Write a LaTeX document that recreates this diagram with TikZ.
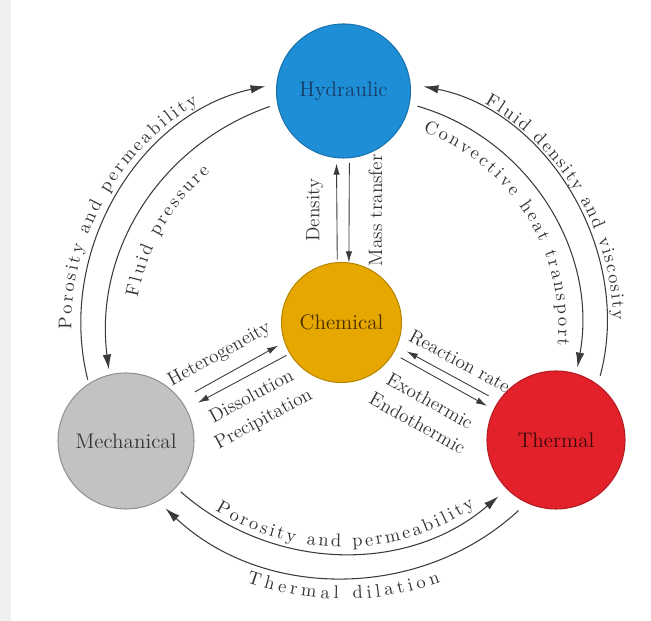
\documentclass[tikz,border=0pt]{standalone}
\usetikzlibrary{arrows.meta,decorations.text}

\definecolor{hydblue}{HTML}{1E8FD7}
\definecolor{chemgold}{HTML}{E5A700}
\definecolor{mechgray}{HTML}{C2C2C2}
\definecolor{thermred}{HTML}{E2212A}
\definecolor{hydtext}{HTML}{173C66}
\definecolor{chemtext}{HTML}{4A2E00}
\definecolor{mechtext}{HTML}{363636}
\definecolor{thermtext}{HTML}{3B0B0B}
\definecolor{linegray}{HTML}{3A3A3A}
\definecolor{arctext}{HTML}{333333}

\newcommand{\arcfont}{\fontsize{10.5}{12.5}\selectfont}

\tikzset{
  field/.style={circle, inner sep=0pt, line width=0.6pt, font=\fontsize{12}{14}\selectfont},
  flow/.style={draw=linegray, line width=0.6pt},
  fwd/.style={-{Latex[length=3mm,width=1.7mm]}},
  link/.style={draw=linegray, line width=0.5pt},
  lfwd/.style={-{Latex[length=2.2mm,width=1.3mm]}},
  lbwd/.style={{Latex[length=2.2mm,width=1.3mm]}-},
  lbl/.style={font=\fontsize{11}{14.5}\selectfont, text=arctext, inner sep=1pt},
}

\begin{document}
\begin{tikzpicture}
  \useasboundingbox (0,0) rectangle (13.02,12.42);
  \fill[black!6] (0,0) rectangle (0.22,12.42);

  % the four fields
  \node[field, minimum size=2.68cm, draw=hydblue!80!black, fill=hydblue, text=hydtext] (hyd) at (6.87,10.60) {Hydraulic};
  \node[field, minimum size=2.40cm, draw=chemgold!80!black, fill=chemgold, text=chemtext] (chem) at (6.83,5.97) {Chemical};
  \node[field, minimum size=2.72cm, draw=mechgray!75!black, fill=mechgray, text=mechtext] (mech) at (2.52,3.60) {Mechanical};
  \node[field, minimum size=2.76cm, draw=thermred!80!black, fill=thermred, text=thermtext] (therm) at (11.12,3.62) {Thermal};

  % outer couplings, left
  \draw[flow, fwd, shorten <=0.08cm, shorten >=0.22cm,
    postaction={decorate, decoration={text along path, text color=arctext, raise=0.2cm,
      text={|\arcfont|Porosity and permeability},
      text align={fit to path, left indent=1.09cm, right indent=1.57cm}}}]
    (mech.123) to[bend left=46] (hyd.174);
  \draw[flow, fwd, shorten <=0.16cm, shorten >=0.1cm] (hyd.191) to[bend right=39] (mech.104);
  \path[decorate, decoration={text along path, text color=arctext, raise=-0.54cm,
      text={|\arcfont|Fluid pressure},
      text align={fit to path, left indent=1.66cm, right indent=1.96cm}}]
    (mech.104) to[bend left=39] (hyd.191);

  % outer couplings, right
  \draw[flow, fwd, shorten <=0.18cm, shorten >=0.26cm] (therm.53) to[bend right=47] (hyd.6);
  \path[decorate, decoration={text along path, text color=arctext, raise=0.14cm,
      text={|\arcfont|Fluid density and viscosity},
      text align={fit to path, left indent=1.5cm, right indent=1.3cm}}]
    (hyd.6) to[bend left=47] (therm.53);
  \draw[flow, fwd, shorten <=0.16cm, shorten >=0.12cm,
    postaction={decorate, decoration={text along path, text color=arctext, raise=-0.44cm,
      text={|\arcfont|Convective heat transport},
      text align={fit to path, left indent=0.46cm, right indent=0.53cm}}}]
    (hyd.349) to[bend left=42] (therm.73);

  % outer couplings, bottom
  \draw[flow, fwd, shorten <=0.12cm, shorten >=0.22cm,
    postaction={decorate, decoration={text along path, text color=arctext, raise=0.1cm,
      text={|\arcfont|Porosity and permeability},
      text align={fit to path, left indent=0.91cm, right indent=0.73cm}}}]
    (mech.317) to[bend right=41] (therm.225);
  \draw[flow, fwd, shorten <=0.22cm, shorten >=0.2cm] (therm.245) to[bend left=43] (mech.298);
  \path[decorate, decoration={text along path, text color=arctext, raise=-0.46cm,
      text={|\arcfont|Thermal dilation},
      text align={fit to path, left indent=2.26cm, right indent=2.21cm}}]
    (mech.298) to[bend right=43] (therm.245);

  % inner couplings with chemical
  \draw[link, lfwd, shorten <=0.05cm, shorten >=0.11cm] (chem.94) -- (hyd.264)
    node[lbl, midway, anchor=south, rotate=90, outer sep=6.7pt] {Density};
  \draw[link, lfwd, shorten <=0.09cm] (hyd.275) -- (chem.83)
    node[lbl, midway, anchor=north, rotate=90, outer sep=10pt] {Mass transfer};
  \draw[link, lfwd, shorten <=0.32cm, shorten >=0.14cm] (mech.37) -- (chem.199)
    node[lbl, pos=0.47, above, sloped, outer sep=5.8pt] {Heterogeneity};
  \draw[link, lbwd, shorten <=0.26cm, shorten >=0.07cm] (mech.28) -- (chem.211)
    node[lbl, pos=0.54, below, sloped, align=center, outer sep=5.7pt] {Dissolution\\Precipitation};
  \draw[link, lbwd, shorten <=0.22cm, shorten >=0.22cm] (chem.337) -- (therm.146)
    node[lbl, pos=0.54, above, sloped, outer sep=4.6pt] {Reaction rate};
  \draw[link, lfwd, shorten <=0.17cm, shorten >=0.15cm] (chem.329) -- (therm.154)
    node[lbl, pos=0.48, below, sloped, align=center, outer sep=8.4pt] {Exothermic\\Endothermic};
\end{tikzpicture}
\end{document}
